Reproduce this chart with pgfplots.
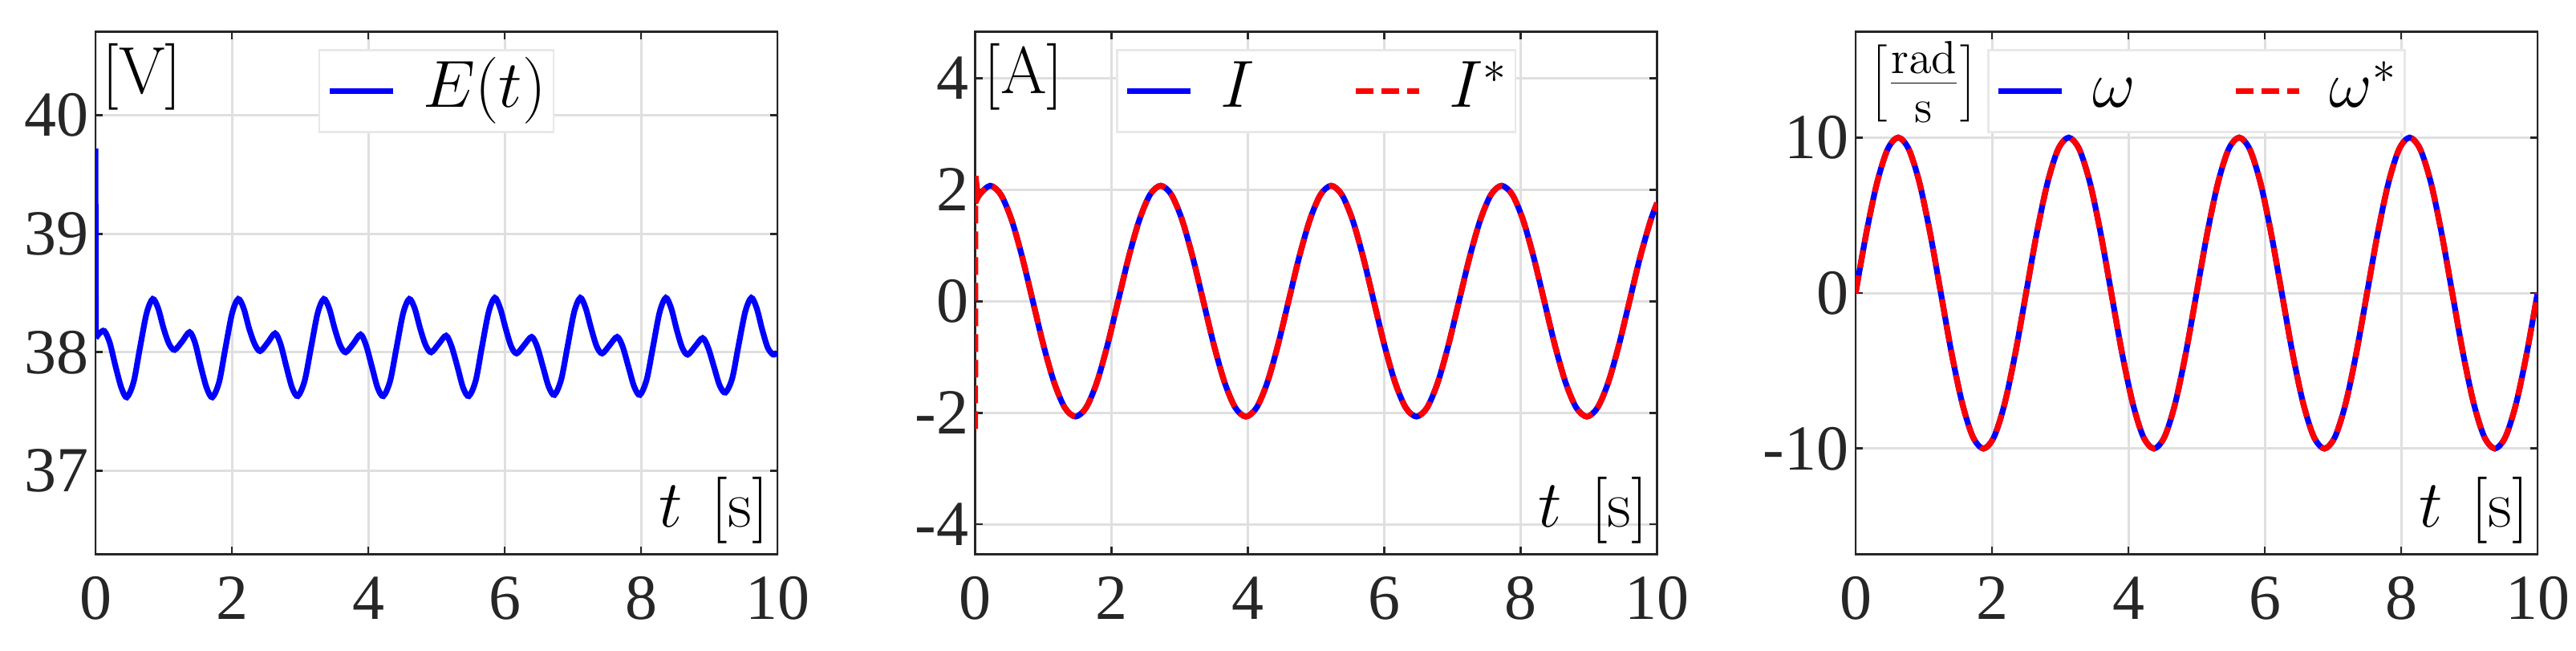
\documentclass[border=0pt]{standalone}
\usepackage[no-math]{fontspec}
\setmainfont{Liberation Serif}
\usepackage{pgfplots}
\pgfplotsset{compat=1.18}
\usepackage{pgfplotstable}
\definecolor{axc}{RGB}{38,38,38}
\definecolor{grc}{RGB}{223,223,223}
\definecolor{lgc}{RGB}{232,232,232}
\definecolor{mblue}{RGB}{0,0,255}
\definecolor{mred}{RGB}{255,0,0}

\pgfplotstableread{
t E
0.005 38.12
0.06 38.16
0.13 38.18
0.21 38.08
0.295 37.88
0.38 37.70
0.46 37.62
0.56 37.75
0.65 38.03
0.75 38.33
0.84 38.45
0.92 38.37
1.00 38.20
1.08 38.07
1.16 38.02
1.27 38.09
1.38 38.17
1.46 38.08
1.545 37.88
1.63 37.70
1.714 37.62
1.814 37.75
1.904 38.03
2.004 38.33
2.094 38.45
2.174 38.37
2.254 38.20
2.334 38.07
2.414 38.01
2.524 38.08
2.634 38.16
2.714 38.07
2.799 37.88
2.884 37.70
2.968 37.63
3.068 37.76
3.158 38.03
3.258 38.33
3.348 38.45
3.428 38.37
3.508 38.20
3.588 38.06
3.668 38.00
3.778 38.07
3.888 38.15
3.968 38.06
4.053 37.88
4.138 37.70
4.222 37.63
4.322 37.76
4.412 38.03
4.512 38.33
4.602 38.45
4.682 38.37
4.762 38.20
4.842 38.06
4.922 38.00
5.032 38.07
5.142 38.14
5.222 38.05
5.307 37.88
5.392 37.70
5.476 37.63
5.576 37.76
5.666 38.04
5.766 38.34
5.856 38.46
5.936 38.37
6.016 38.20
6.096 38.05
6.176 37.99
6.286 38.06
6.396 38.13
6.476 38.05
6.561 37.88
6.646 37.71
6.730 37.64
6.830 37.77
6.920 38.04
7.020 38.34
7.110 38.46
7.190 38.37
7.270 38.20
7.350 38.05
7.430 37.99
7.540 38.06
7.650 38.13
7.730 38.05
7.815 37.88
7.900 37.71
7.984 37.64
8.084 37.77
8.174 38.04
8.274 38.34
8.364 38.46
8.444 38.37
8.524 38.19
8.604 38.04
8.684 37.98
8.794 38.05
8.904 38.12
8.984 38.04
9.069 37.88
9.154 37.72
9.238 37.66
9.338 37.78
9.428 38.05
9.528 38.34
9.618 38.46
9.698 38.37
9.778 38.19
9.858 38.04
9.938 37.98
10.0 38.00
}\Edata

\pgfplotstableread{
t I
0 1.76
0.064 1.91
0.220 2.07
0.376 1.91
0.533 1.46
0.689 0.79
0.845 0
1.001 -0.79
1.158 -1.46
1.314 -1.91
1.470 -2.07
1.626 -1.91
1.783 -1.46
1.939 -0.79
2.095 0
2.251 0.79
2.408 1.46
2.564 1.91
2.720 2.07
2.876 1.91
3.033 1.46
3.189 0.79
3.345 0
3.501 -0.79
3.658 -1.46
3.814 -1.91
3.970 -2.07
4.126 -1.91
4.283 -1.46
4.439 -0.79
4.595 0
4.751 0.79
4.908 1.46
5.064 1.91
5.220 2.07
5.376 1.91
5.533 1.46
5.689 0.79
5.845 0
6.001 -0.79
6.158 -1.46
6.314 -1.91
6.470 -2.07
6.626 -1.91
6.783 -1.46
6.939 -0.79
7.095 0
7.251 0.79
7.408 1.46
7.564 1.91
7.720 2.07
7.876 1.91
8.033 1.46
8.189 0.79
8.345 0
8.501 -0.79
8.658 -1.46
8.814 -1.91
8.970 -2.07
9.126 -1.91
9.283 -1.46
9.439 -0.79
9.595 0
9.751 0.79
9.908 1.46
10.000 1.76
}\Idata

\pgfplotstableread{
t W
0 0
0.156 3.83
0.313 7.07
0.469 9.24
0.625 10
0.781 9.24
0.938 7.07
1.094 3.83
1.25 0
1.406 -3.83
1.563 -7.07
1.719 -9.24
1.875 -10
2.031 -9.24
2.188 -7.07
2.344 -3.83
2.5 0
2.656 3.83
2.813 7.07
2.969 9.24
3.125 10
3.281 9.24
3.438 7.07
3.594 3.83
3.75 0
3.906 -3.83
4.063 -7.07
4.219 -9.24
4.375 -10
4.531 -9.24
4.688 -7.07
4.844 -3.83
5.0 0
5.156 3.83
5.313 7.07
5.469 9.24
5.625 10
5.781 9.24
5.938 7.07
6.094 3.83
6.25 0
6.406 -3.83
6.563 -7.07
6.719 -9.24
6.875 -10
7.031 -9.24
7.188 -7.07
7.344 -3.83
7.5 0
7.656 3.83
7.813 7.07
7.969 9.24
8.125 10
8.281 9.24
8.438 7.07
8.594 3.83
8.75 0
8.906 -3.83
9.063 -7.07
9.219 -9.24
9.375 -10
9.531 -9.24
9.688 -7.07
9.844 -3.83
10.0 0
}\Wdata

\tikzset{lab/.style={font=\fontsize{20}{24}\selectfont, inner sep=0pt}}

\pgfplotsset{
  myax/.style={
    scale only axis, width=212.5pt, height=162.75pt,
    anchor=south west,
    xmin=0, xmax=10, xtick={0,2,4,6,8,10},
    /pgf/number format/assume math mode=true,
    grid=major, grid style={line width=0.75pt, grc},
    axis line style={line width=0.7pt, axc},
    tick style={line width=0.7pt, axc},
    major tick length=2.3pt, tick align=inside,
    xtick pos=both, ytick pos=both, xticklabel pos=lower, yticklabel pos=left,
    tick label style={font=\rmfamily\fontsize{20}{22}\selectfont, text=axc},
    xticklabel style={yshift=-3.5pt},
    yticklabel style={xshift=1.4pt},
    legend style={draw=lgc, line width=0.6pt, fill=white,
      at={(0.5,1)}, anchor=north, yshift=-5.4pt,
      inner xsep=2.3pt, inner ysep=2pt,
      font=\fontsize{20}{24}\selectfont,
      nodes={inner xsep=0pt, inner ysep=0pt, text height=15.75pt, text depth=5.75pt},
      /tikz/every odd column/.append style={column sep=8.5pt},
      /tikz/every even column/.append style={column sep=30.5pt}},
    legend cell align=left,
    legend image code/.code={\draw[#1] (0pt,0pt) -- (19.75pt,0pt);},
  },
}

\begin{document}
\begin{tikzpicture}
\useasboundingbox (0,0) rectangle (802.75pt,202.75pt);

% Panel 1
\begin{axis}[myax, at={(29.75pt,30.1pt)},
  ymin=36.294, ymax=40.706, ytick={37,38,39,40}]
\addplot[mblue, line width=1.8pt, forget plot] coordinates {(0,39.72) (0.006,38.12)};
\addplot[mblue, line width=1.8pt, smooth] table[x=t,y=E]{\Edata};
\addlegendentry{$E(t)$}
\node[lab, anchor=north west] at (rel axis cs:0,1) [xshift=2pt, yshift=-3.5pt] {$[\mathrm{V}]$};
\node[lab, anchor=south east] at (rel axis cs:1,0) [xshift=-2.6pt, yshift=3.2pt] {$t\hspace{0.45em}[\mathrm{s}]$};
\end{axis}

% Panel 2
\begin{axis}[myax, at={(303.9pt,30.1pt)}, legend columns=2,
  ymin=-4.54, ymax=4.83, ytick={-4,-2,0,2,4}]
\addplot[mblue, line width=1.8pt, smooth] table[x=t,y=I]{\Idata};
\addlegendentry{$I$}
\addplot[mred, line width=1.8pt, smooth, dash pattern=on 5.5pt off 2.5pt] table[x=t,y=I]{\Idata};
\addlegendentry{$I^*$}
\addplot[mred, line width=1.8pt, dash pattern=on 5.5pt off 2.5pt, forget plot] coordinates {(0,-2.29) (0.002,2.28) (0.04,1.86)};
\node[lab, anchor=north west] at (rel axis cs:0,1) [xshift=2.5pt, yshift=-3.5pt] {$[\mathrm{A}]$};
\node[lab, anchor=south east] at (rel axis cs:1,0) [xshift=-2.6pt, yshift=3.2pt] {$t\hspace{0.45em}[\mathrm{s}]$};
\end{axis}

% Panel 3
\begin{axis}[myax, at={(578.25pt,30.1pt)}, legend columns=2,
  ymin=-16.8, ymax=16.8, ytick={-10,0,10}]
\addplot[mblue, line width=1.8pt, smooth] table[x=t,y=W]{\Wdata};
\addlegendentry{$\omega$}
\addplot[mred, line width=1.8pt, smooth, dash pattern=on 5.5pt off 2.5pt] table[x=t,y=W]{\Wdata};
\addlegendentry{$\omega^*$}
\node[lab, anchor=north west] at (rel axis cs:0,1) [xshift=4.4pt, yshift=-2.8pt] {$\left[\frac{\mathrm{rad}}{\mathrm{s}}\right]$};
\node[lab, anchor=south east] at (rel axis cs:1,0) [xshift=-2.6pt, yshift=3.2pt] {$t\hspace{0.45em}[\mathrm{s}]$};
\end{axis}
\end{tikzpicture}
\end{document}
